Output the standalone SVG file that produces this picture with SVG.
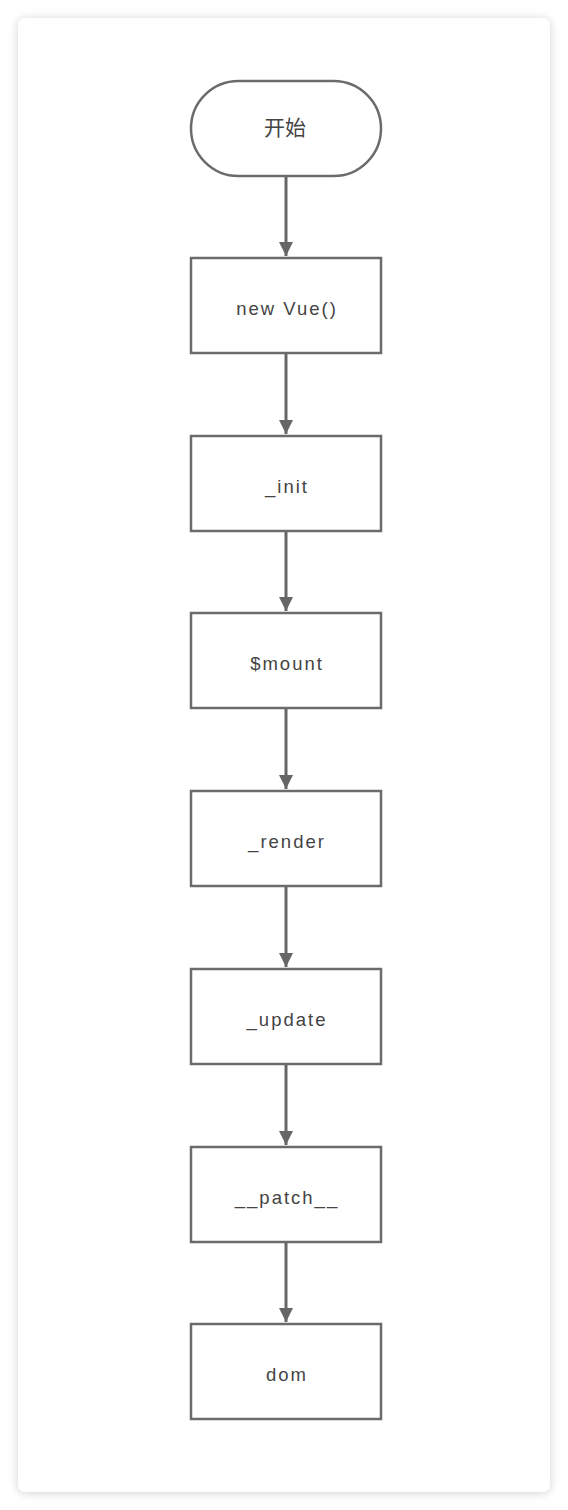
<svg xmlns="http://www.w3.org/2000/svg" width="568" height="1510" viewBox="0 0 568 1510">
  <defs>
    <filter id="shadow" x="-10%" y="-5%" width="120%" height="110%">
      <feDropShadow dx="0" dy="1" stdDeviation="5" flood-color="#000" flood-opacity="0.18"/>
    </filter>
    <marker id="arrow" viewBox="0 0 14 14" refX="14" refY="7" markerWidth="14" markerHeight="14" markerUnits="userSpaceOnUse" orient="auto">
      <path d="M0,0 L14,7 L0,14 Z" fill="#666"/>
    </marker>
  </defs>
  <style>
    .shape { fill: #ffffff; stroke: #6b6b6b; stroke-width: 2.5; }
    .label { font-family: "Liberation Sans", Arial, "Noto Sans CJK SC", sans-serif; font-size: 18.5px; fill: #444; text-anchor: middle; letter-spacing: 2px; }
    .cjk { font-family: "Noto Sans CJK SC", sans-serif; font-size: 21px; fill: #444; text-anchor: middle; }
    .conn { stroke: #666; stroke-width: 3; fill: none; marker-end: url(#arrow); }
  </style>
  <rect x="0" y="0" width="568" height="1510" fill="#ffffff"/>
  <rect x="18" y="18" width="532" height="1474" rx="8" ry="8" fill="#ffffff" filter="url(#shadow)"/>

  <g id="connectors">
    <line class="conn" x1="286" y1="177" x2="286" y2="256"/>
    <line class="conn" x1="286" y1="354" x2="286" y2="434"/>
    <line class="conn" x1="286" y1="531" x2="286" y2="611"/>
    <line class="conn" x1="286" y1="709" x2="286" y2="789"/>
    <line class="conn" x1="286" y1="887" x2="286" y2="967"/>
    <line class="conn" x1="286" y1="1065" x2="286" y2="1145"/>
    <line class="conn" x1="286" y1="1243" x2="286" y2="1322"/>
  </g>

  <g id="node-start">
    <rect class="shape" x="191" y="81" width="190" height="95" rx="47.5" ry="47.5"/>
    <text class="cjk" x="285" y="135">开始</text>
  </g>
  <g id="node-newvue">
    <rect class="shape" x="191" y="258" width="190" height="95"/>
    <text class="label" x="287" y="315">new Vue()</text>
  </g>
  <g id="node-init">
    <rect class="shape" x="191" y="436" width="190" height="95"/>
    <text class="label" x="287" y="493">_init</text>
  </g>
  <g id="node-mount">
    <rect class="shape" x="191" y="613" width="190" height="95"/>
    <text class="label" x="287" y="670">$mount</text>
  </g>
  <g id="node-render">
    <rect class="shape" x="191" y="791" width="190" height="95"/>
    <text class="label" x="287" y="848">_render</text>
  </g>
  <g id="node-update">
    <rect class="shape" x="191" y="969" width="190" height="95"/>
    <text class="label" x="287" y="1026">_update</text>
  </g>
  <g id="node-patch">
    <rect class="shape" x="191" y="1147" width="190" height="95"/>
    <text class="label" x="287" y="1204">__patch__</text>
  </g>
  <g id="node-dom">
    <rect class="shape" x="191" y="1324" width="190" height="95"/>
    <text class="label" x="287" y="1381">dom</text>
  </g>
</svg>
